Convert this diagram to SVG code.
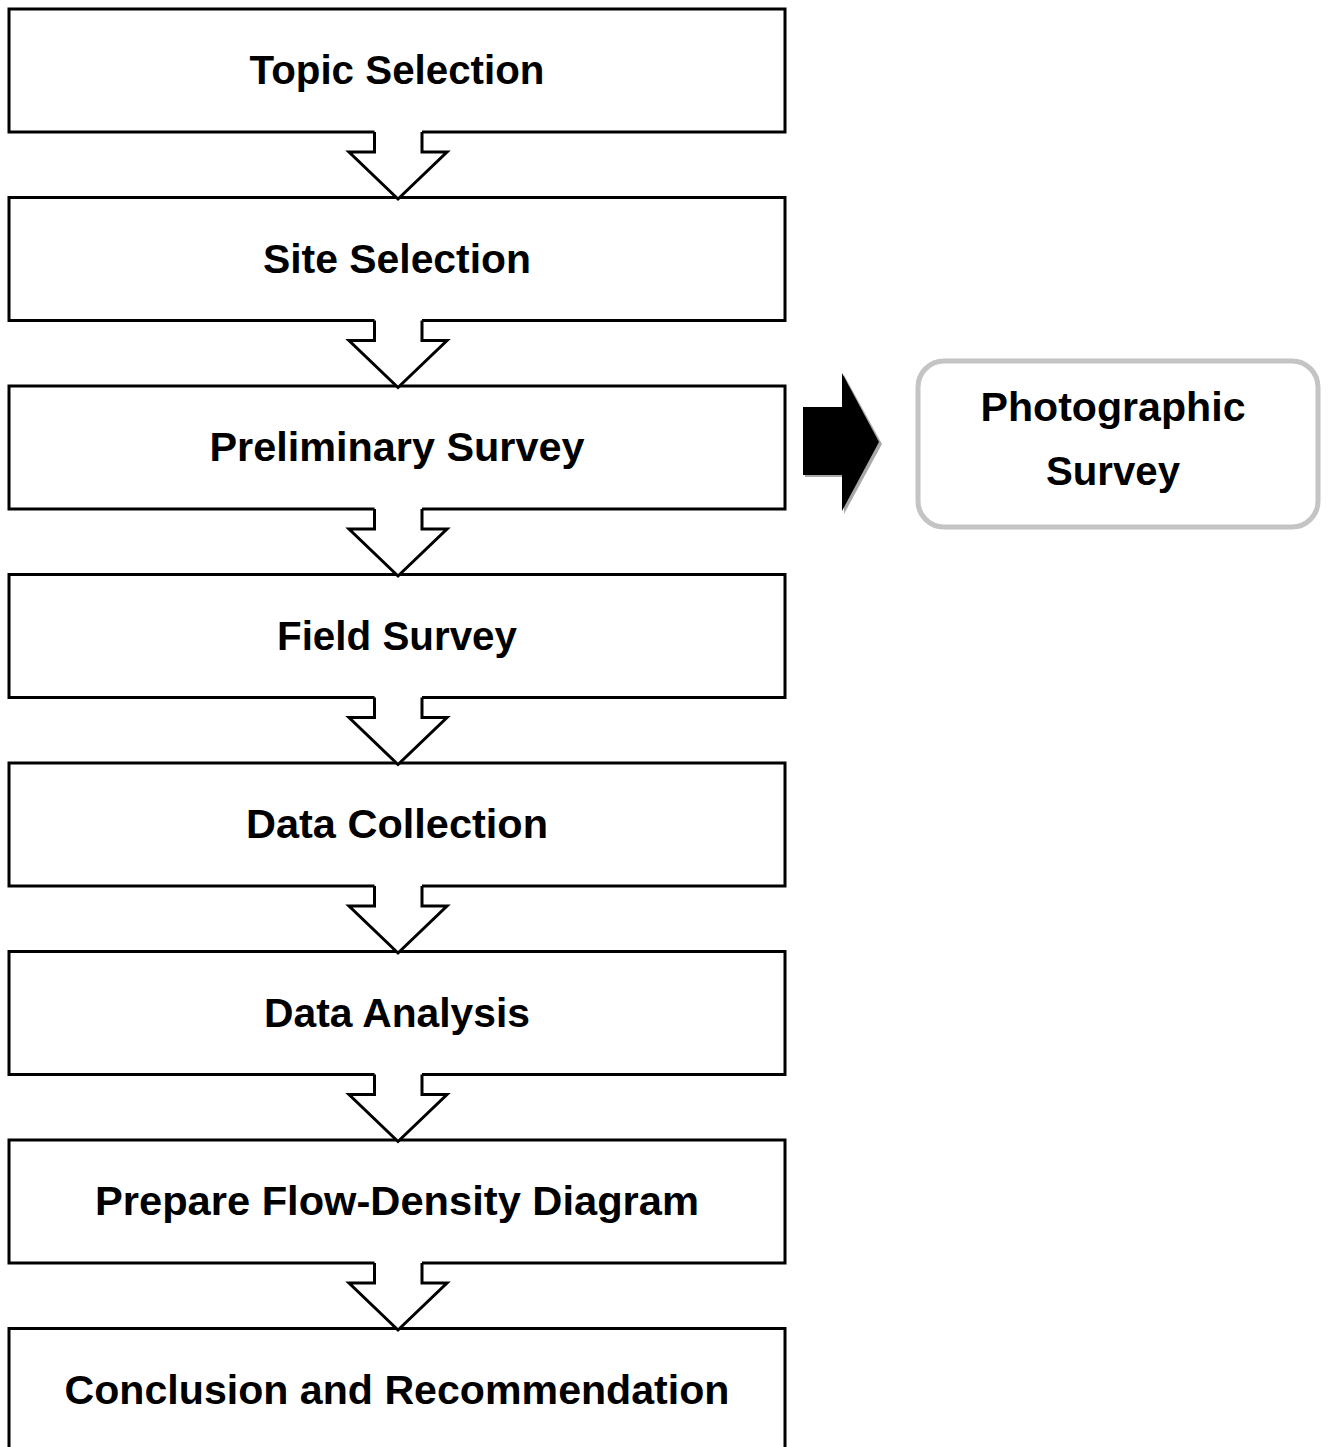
<svg xmlns="http://www.w3.org/2000/svg" width="1328" height="1447" viewBox="0 0 1328 1447">
<style>
.box{fill:#fff;stroke:#000;stroke-width:3}
.t{font-family:"Liberation Sans",Arial,sans-serif;font-weight:bold;font-size:41px;fill:#000;text-anchor:middle}
.af{fill:#fff;stroke:none}
.as{fill:none;stroke:#000;stroke-width:3;stroke-linejoin:miter}
</style>
<rect width="1328" height="1447" fill="#fff"/>
<g id="n1"><rect class="box" x="9" y="9" width="776" height="123"/><text class="t" x="397" y="84" textLength="295" lengthAdjust="spacingAndGlyphs">Topic Selection</text></g>
<g id="n2"><rect class="box" x="9" y="197.5" width="776" height="123"/><text class="t" x="397" y="272.5" textLength="268" lengthAdjust="spacingAndGlyphs">Site Selection</text></g>
<g id="n3"><rect class="box" x="9" y="386" width="776" height="123"/><text class="t" x="397" y="461" textLength="375" lengthAdjust="spacingAndGlyphs">Preliminary Survey</text></g>
<g id="n4"><rect class="box" x="9" y="574.5" width="776" height="123"/><text class="t" x="397" y="649.5" textLength="240" lengthAdjust="spacingAndGlyphs">Field Survey</text></g>
<g id="n5"><rect class="box" x="9" y="763" width="776" height="123"/><text class="t" x="397" y="838" textLength="302" lengthAdjust="spacingAndGlyphs">Data Collection</text></g>
<g id="n6"><rect class="box" x="9" y="951.5" width="776" height="123"/><text class="t" x="397" y="1026.5" textLength="266" lengthAdjust="spacingAndGlyphs">Data Analysis</text></g>
<g id="n7"><rect class="box" x="9" y="1140" width="776" height="123"/><text class="t" x="397" y="1215" textLength="604" lengthAdjust="spacingAndGlyphs">Prepare Flow-Density Diagram</text></g>
<g id="n8"><rect class="box" x="9" y="1328.5" width="776" height="140"/><text class="t" x="397" y="1404" textLength="665" lengthAdjust="spacingAndGlyphs">Conclusion and Recommendation</text></g>
<g id="n9">
<rect x="918" y="361" width="400" height="166" rx="26" fill="#fff" stroke="#c4c4c4" stroke-width="5"/>
<text class="t" x="1113" y="421" textLength="265" lengthAdjust="spacingAndGlyphs">Photographic</text>
<text class="t" x="1113" y="485" textLength="134" lengthAdjust="spacingAndGlyphs">Survey</text>
</g>
<g id="connectors">
<g id="c1"><path class="af" d="M374.5,129 V152 H349 L398,199 L447,152 H422 V129 Z"/><path class="as" d="M374.5,132 V152 H349 L398,199 L447,152 H422 V132"/></g>
<g id="c2"><path class="af" d="M374.5,317.5 V340.5 H349 L398,387.5 L447,340.5 H422 V317.5 Z"/><path class="as" d="M374.5,320.5 V340.5 H349 L398,387.5 L447,340.5 H422 V320.5"/></g>
<g id="c3"><path class="af" d="M374.5,506 V529 H349 L398,576 L447,529 H422 V506 Z"/><path class="as" d="M374.5,509 V529 H349 L398,576 L447,529 H422 V509"/></g>
<g id="c4"><path class="af" d="M374.5,694.5 V717.5 H349 L398,764.5 L447,717.5 H422 V694.5 Z"/><path class="as" d="M374.5,697.5 V717.5 H349 L398,764.5 L447,717.5 H422 V697.5"/></g>
<g id="c5"><path class="af" d="M374.5,883 V906 H349 L398,953 L447,906 H422 V883 Z"/><path class="as" d="M374.5,886 V906 H349 L398,953 L447,906 H422 V886"/></g>
<g id="c6"><path class="af" d="M374.5,1071.5 V1094.5 H349 L398,1141.5 L447,1094.5 H422 V1071.5 Z"/><path class="as" d="M374.5,1074.5 V1094.5 H349 L398,1141.5 L447,1094.5 H422 V1074.5"/></g>
<g id="c7"><path class="af" d="M374.5,1260 V1283 H349 L398,1330 L447,1283 H422 V1260 Z"/><path class="as" d="M374.5,1263 V1283 H349 L398,1330 L447,1283 H422 V1263"/></g>
<g id="c8">
<path d="M805,409 H844 V375 L882,444 L844,514 V477 H805 Z" fill="#a8a8a8"/>
<path d="M803,407 H842 V373 L879,442 L842,511 V475 H803 Z" fill="#000"/>
</g>
</g>
</svg>
